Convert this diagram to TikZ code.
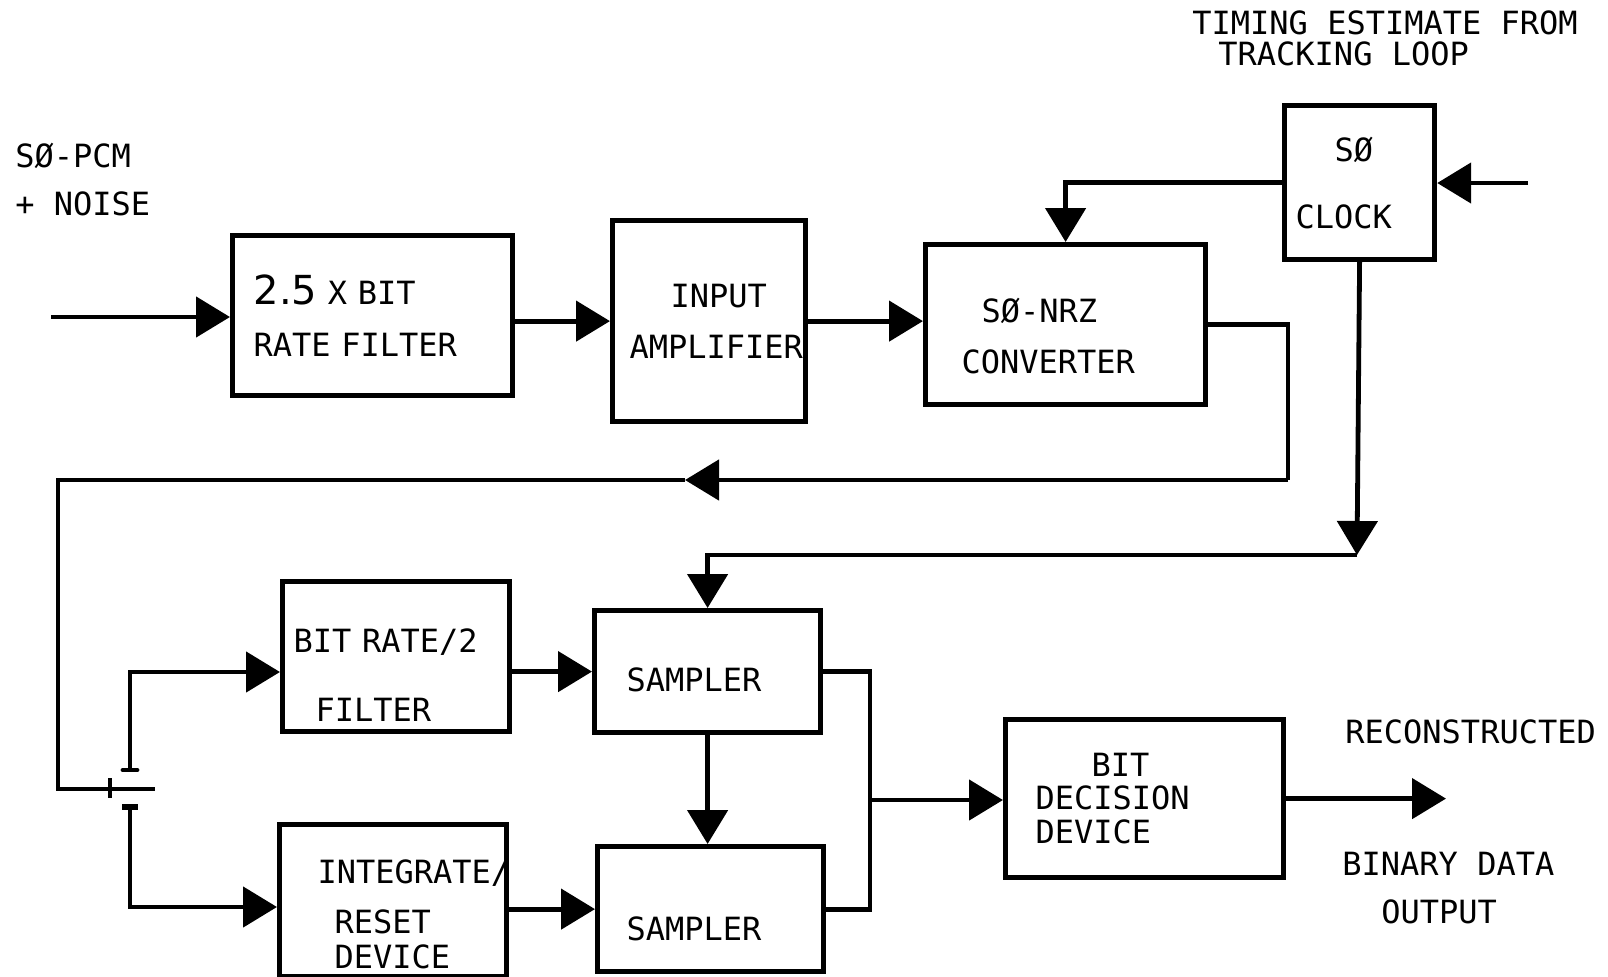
\documentclass[tikz,border=0pt]{standalone}
\usepackage{fontspec}
\newfontfamily\lblfont{DejaVu Sans Mono}
\newfontfamily\digfont{DejaVu Sans}
\usetikzlibrary{arrows.meta}
\newcommand\padtop[1]{\rule{0pt}{#1}}

\begin{document}
\begin{tikzpicture}[
  x=0.5pt, y=-0.5pt,
  font=\lblfont\fontsize{16}{24}\selectfont,
  block/.style={draw, line width=2.6pt, anchor=north west, align=left,
                inner ysep=0pt, execute at begin node={\parindent=0pt}},
  wire/.style={line width=2.4pt},
  arr/.style={-{Triangle[length=17pt, width=20pt]}},
  lbl/.style={inner sep=0pt, align=left, anchor=west},
]
  \useasboundingbox (0,0) rectangle (1608,976);

  % upper chain
  \node[block, minimum width=140pt, minimum height=80pt, text width=119pt, inner xsep=10.5pt]
    (filt) at (230,233) {{\digfont\fontsize{20}{24}\selectfont 2.5} X BIT\\[2pt]RATE FILTER};
  \node[block, minimum width=96.5pt, minimum height=100.5pt, text width=79.5pt, inner xsep=8.5pt]
    (amp) at (610,218) {\hspace*{20.5pt}INPUT\\[1.5pt]\mbox{AMPLIFIER}};
  \node[block, minimum width=140pt, minimum height=80pt, text width=104pt, inner xsep=18pt]
    (conv) at (923,242) {\padtop{23.5pt}\hspace*{10pt}SØ-NRZ\\[1.5pt]CONVERTER};
  \node[block, minimum width=75pt, minimum height=77pt, text width=64pt, inner xsep=5.5pt]
    (clk) at (1282,103) {\hspace*{19.5pt}SØ\\[9.5pt]CLOCK};

  % lower chain
  \node[block, minimum width=113.5pt, minimum height=75pt, text width=102.5pt, inner xsep=5.5pt]
    (bitf) at (280,579) {\padtop{30pt}BIT RATE/2\\[10.5pt]\hspace*{11pt}FILTER};
  \node[block, minimum width=113.5pt, minimum height=76pt, text width=75.5pt, inner xsep=19pt]
    (intg) at (277,822) {\padtop{26pt}\mbox{INTEGRATE/}\\[1pt]\hspace*{8.5pt}RESET\\[-6.5pt]\hspace*{8.5pt}DEVICE};
  \node[block, minimum width=113pt, minimum height=61pt, text width=81pt, inner xsep=16pt]
    (samt) at (592,608) {\padtop{20pt}SAMPLER};
  \node[block, minimum width=113pt, minimum height=62.5pt, text width=84pt, inner xsep=14.5pt]
    (samb) at (595,844) {\padtop{32pt}SAMPLER};
  \node[block, minimum width=139pt, minimum height=79pt, text width=109pt, inner xsep=15pt]
    (bdd) at (1003,717) {\hspace*{28pt}BIT\\[-7.5pt]DECISION\\[-7pt]DEVICE};

  % labels
  \node[lbl] (src) at (15,179.5) {SØ-PCM\\+ NOISE};
  \node[lbl] (tim) at (1192,38) {TIMING ESTIMATE FROM\\[-8.5pt]\hspace*{13pt}TRACKING LOOP};
  \node[lbl] (rec) at (1345,732) {RECONSTRUCTED};
  \node[lbl] (bin) at (1342,888) {BINARY DATA\\\hspace*{19.5pt}OUTPUT};

  % free ends and corners
  \coordinate (in) at (51,317);
  \coordinate (tin) at (1528,183);
  \coordinate (fbr) at (1288,480);
  \coordinate (fbm) at (685,480);
  \coordinate (swl) at (58,789);
  \coordinate (swr) at (155,789);
  \coordinate (tkt) at (110,778);
  \coordinate (tkb) at (110,798);
  \coordinate (cu) at (130,770);
  \coordinate (cd) at (130,807);
  \coordinate (ub) at (130,672);
  \coordinate (lb) at (130,907);
  \coordinate (ck) at (1357,555);
  \coordinate (jn) at (870,800);
  \coordinate (out) at (1446,799);

  % signal path
  \draw[wire, arr] (in) -- (in -| filt.west);
  \draw[wire, arr] (filt.east |- amp.west) -- (amp.west);
  \draw[wire, arr] (amp.east) -- (amp.east -| conv.west);
  \draw[wire, arr] (clk.west) -| (conv.north);
  \draw[wire, arr] (tin) -- (tin -| clk.east);
  \draw[wire] (conv.east) -| (fbr);
  \draw[wire, arr] (fbr) -- (fbm);
  \draw[wire] (fbm) -- (fbm -| swl) -- (swl) -- (swr);

  % switch
  \draw[wire] (tkt) -- (tkb);
  \draw[wire, line cap=round] ([xshift=-3.5pt]cu) -- ([xshift=3.5pt]cu);
  \draw[line width=3pt] ([xshift=-4pt]cd) -- ([xshift=4pt]cd);
  \draw[wire, arr] (cu) -- (ub) -- (ub -| bitf.west);
  \draw[wire, arr] (cd) -- (lb) -- (lb -| intg.west);

  % samplers
  \draw[wire, arr] (clk.south) -- (ck);
  \draw[wire, arr] (ck) -| (samt.north);
  \draw[wire, arr] (samt.west -| bitf.east) -- (samt.west);
  \draw[wire, arr] (samb.west -| intg.east) -- (samb.west);
  \draw[wire, arr] (samt.south) -- (samt.south |- samb.north);
  \draw[wire] (samt.east) -| (jn) |- (samb.east);
  \draw[wire, arr] (jn) -- (jn -| bdd.west);
  \draw[wire, arr] (bdd.east) -- (bdd.east -| out);
\end{tikzpicture}
\end{document}
